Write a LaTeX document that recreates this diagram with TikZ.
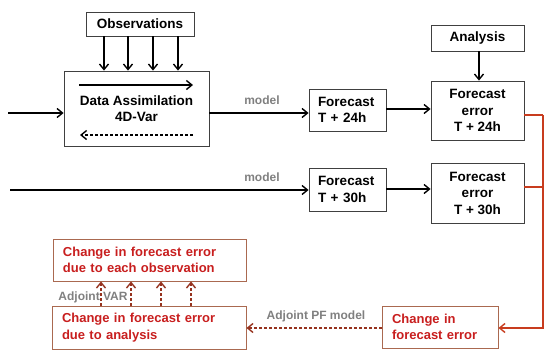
\documentclass[tikz,border=0pt]{standalone}
\usepackage{fontspec}
\setmainfont{Liberation Sans}
\usetikzlibrary{arrows.meta}
\definecolor{redtxt}{RGB}{200,30,30}
\definecolor{redbox}{RGB}{170,105,80}
\definecolor{redline}{RGB}{200,60,30}
\definecolor{darkred}{RGB}{150,50,30}
\definecolor{graytxt}{RGB}{128,128,128}
\begin{document}
\begin{tikzpicture}[x=1pt,y=-1pt,
  font=\fontsize{13.5}{16.5}\selectfont\bfseries,
  box/.style={draw=black!75,line width=0.8pt,inner sep=0pt,minimum width=#1},
  lbox/.style={draw=black!75,line width=0.8pt,inner xsep=9pt,inner ysep=0pt,text width=#1-18pt,align=left},
  redbox/.style={draw=redbox,line width=0.9pt,inner xsep=10pt,inner ysep=0pt,text=redtxt,text width=#1-20pt,align=left,font=\fontsize{13}{16.5}\selectfont\bfseries},
  arr/.style={line width=1.4pt,-{Straight Barb[length=5.5pt,width=9pt,line width=1.4pt]}},
  darr/.style={line width=1.4pt,dashed,dash pattern=on 3pt off 2pt,-{Straight Barb[length=5.5pt,width=9pt,line width=1.4pt]}},
  rarr/.style={line width=1.4pt,dashed,dash pattern=on 3pt off 2pt,draw=darkred,-{Straight Barb[length=5.5pt,width=9pt,line width=1.4pt]}},
  lbl/.style={text=graytxt,font=\fontsize{12}{14}\selectfont\bfseries}
]
\useasboundingbox (0,0) rectangle (550,354);
% nodes
\node[box=108,minimum height=24] (obs) at (140,24) {Observations};
\node[box=145,minimum height=75,align=center] (da) at (136.5,108.5) {Data Assimilation\\4D-Var};
\node[box=93,minimum height=26] (ana) at (477.5,38) {Analysis};
\node[lbox=77,minimum height=42] (fc24) at (347.5,110) {Forecast\\T + 24h};
\node[box=93,minimum height=59,align=center] (fe24) at (477.5,110.5) {Forecast\\error\\T + 24h};
\node[lbox=77,minimum height=43] (fc30) at (347.5,189.5) {Forecast\\T + 30h};
\node[box=93,minimum height=60,align=center] (fe30) at (477.5,193) {Forecast\\error\\T + 30h};
\node[redbox=116,minimum height=42] (cfe) at (440,327) {Change in\\forecast error};
\node[redbox=194,minimum height=43] (cfa) at (149,327.5) {Change in forecast error\\due to analysis};
\node[redbox=193,minimum height=42] (cfo) at (149.5,260) {Change in forecast error\\due to each observation};
% labels
\node[lbl] (m1) at (262,100) {model};
\node[lbl] (m2) at (262,177) {model};
\node[lbl] (apf) at (316,316) {Adjoint PF model};
\node[lbl] (avar) at (93,297) {Adjoint VAR};
% coordinates
\coordinate (in1) at (8,113);
\coordinate (in2) at (10,190);
\coordinate (c1) at (543,115);
\coordinate (c2) at (543,187);
\coordinate (c3) at (543,328);
% black arrows
\draw[arr] (in1) -- (da.west |- in1);
\draw[arr] (da.east |- in1) -- (fc24.west |- in1);
\draw[arr] (fc24.east |- 0,109) -- (fe24.west |- 0,109);
\draw[arr] (in2) -- (fc30.west |- in2);
\draw[arr] (fc30.east |- 0,189) -- (fe30.west |- 0,189);
\draw[arr] (ana.south -| 479,0) -- (fe24.north -| 479,0);
\foreach \x in {104,128,153,178}
  \draw[arr] (obs.south -| \x,0) -- (da.north -| \x,0);
\coordinate (dl) at (79,85);
\coordinate (dr) at (193,85);
\coordinate (el) at (80,135);
\coordinate (er) at (193,135);
\draw[arr] (dl) -- (dr);
\draw[darr] (er) -- (el);
% red
\draw[redline,line width=1.4pt] (fe24.east |- c1) -- (c1);
\draw[redline,line width=1.4pt] (fe30.east |- c2) -- (c2);
\draw[redline,line width=1.4pt,-{Straight Barb[length=5.5pt,width=9pt,line width=1.4pt]}] (c1) -- (c3) -- (cfe.east |- c3);
\draw[rarr] (cfe.west |- c3) -- (cfa.east |- c3);
\foreach \x in {101,131,161,191}
  \draw[rarr] (cfa.north -| \x,0) -- (cfo.south -| \x,0);
\end{tikzpicture}
\end{document}
